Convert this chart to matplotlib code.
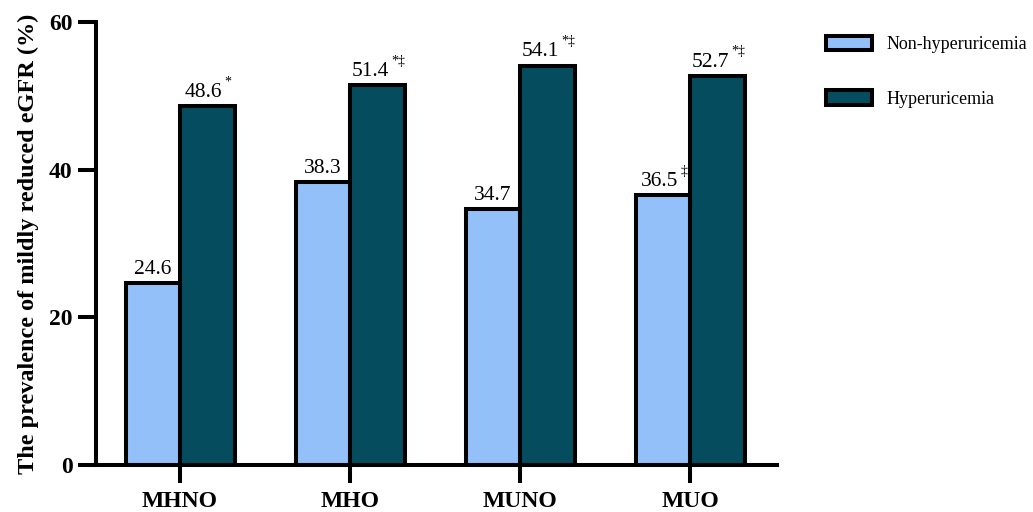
import matplotlib
matplotlib.use("Agg")
import matplotlib.pyplot as plt
import numpy as np

plt.rcParams["font.family"] = ["Liberation Serif", "DejaVu Serif"]

groups = ["MHNO", "MHO", "MUNO", "MUO"]
non_hyper = [24.6, 38.3, 34.7, 36.5]
hyper = [48.6, 51.4, 54.1, 52.7]
non_hyper_marks = ["", "", "", "\u2021"]
hyper_marks = ["*", "*\u2021", "*\u2021", "*\u2021"]

light_color = "#93C0F9"
dark_color = "#044C5E"

fig = plt.figure(figsize=(10.33, 5.12), dpi=100)
ax = fig.add_axes([0.093, 0.092, 0.659, 0.865])

x = np.arange(len(groups))
width = 0.32
edge_kw = dict(edgecolor="black", linewidth=2.9)
bars_a = ax.bar(x - width / 2, non_hyper, width, color=light_color,
                label="Non-hyperuricemia", **edge_kw)
bars_b = ax.bar(x + width / 2, hyper, width, color=dark_color,
                label="Hyperuricemia", **edge_kw)


def label_bars(bars, values, marks):
    for bar, val, mark in zip(bars, values, marks):
        # nudge the number left so number + superscript sit over the bar
        shift = -2.5 * len(mark)
        txt = ax.annotate(f"{val:.1f}",
                          (bar.get_x() + bar.get_width() / 2, val),
                          xytext=(shift, 3), textcoords="offset points",
                          ha="center", va="bottom", fontsize=15.5)
        if mark:
            ax.annotate(mark, xy=(1.0, 0.72), xycoords=txt,
                        xytext=(1.5, 0), textcoords="offset points",
                        ha="left", va="bottom", fontsize=10)


label_bars(bars_a, non_hyper, non_hyper_marks)
label_bars(bars_b, hyper, hyper_marks)

ax.set_xlim(-0.494, 3.508)
ax.set_ylim(0, 60)
ax.set_yticks([0, 20, 40, 60])
ax.set_xticks(x)
ax.set_xticklabels(groups, fontsize=17, fontweight="bold")
ax.tick_params(axis="y", labelsize=17, width=2.9, length=13, pad=4)
ax.tick_params(axis="x", width=2.9, length=13, pad=6)
for lab in ax.get_yticklabels():
    lab.set_fontweight("bold")

for side in ["top", "right"]:
    ax.spines[side].set_visible(False)
for side in ["left", "bottom"]:
    ax.spines[side].set_linewidth(2.9)

ax.set_ylabel("The prevalence of mildly reduced eGFR (%)", fontsize=17.5,
              fontweight="bold", labelpad=7)

fig.legend(loc="upper left", bbox_to_anchor=(0.784, 0.962), frameon=False,
           fontsize=13, handlelength=2.55, handleheight=0.88,
           labelspacing=2.05, handletextpad=0.82)

fig.savefig("out.png", dpi=100)
